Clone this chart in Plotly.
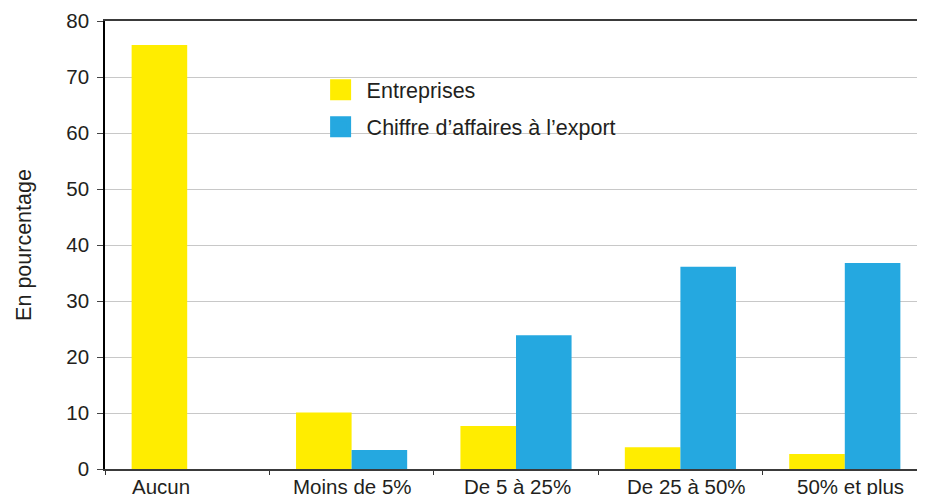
import plotly.graph_objects as go

categories = ["Aucun", "Moins de 5%", "De 5 à 25%", "De 25 à 50%", "50% et plus"]
entreprises = [75.7, 10.1, 7.7, 3.9, 2.7]
chiffre_export = [0, 3.4, 23.9, 36.1, 36.8]
series_names = ["Entreprises", "Chiffre d’affaires à l’export"]
colors = ["#FFED00", "#25A8E0"]
# horizontal nudge (px) of each category label, as placed in the original
label_nudge = [-26, 1, 1, 6, 6]

fig = go.Figure()
for name, vals, col in zip(series_names, [entreprises, chiffre_export], colors):
    fig.add_trace(go.Bar(x=categories, y=vals, name=name, marker=dict(color=col, line=dict(width=0)),
                         showlegend=False))
# legend entries (larger square symbols)
for i, (name, col) in enumerate(zip(series_names, colors)):
    fig.add_trace(go.Scatter(x=[None], y=[None], mode="markers", name=name, legendgroup=f"g{i}",
                             marker=dict(symbol="square", size=16, color=col, line=dict(color=col, width=5))))

# category labels
for cat, dx in zip(categories, label_nudge):
    fig.add_annotation(x=cat, y=0, xref="x", yref="y", text=cat, showarrow=False,
                       yanchor="top", xanchor="center", xshift=dx, yshift=-4,
                       font=dict(size=20.5))

font_family = "Liberation Sans, Arial, sans-serif"
fig.update_layout(
    width=925, height=495,
    margin=dict(l=97, r=6, t=13, b=34),
    paper_bgcolor="white", plot_bgcolor="white",
    barmode="group", bargap=0.324, bargroupgap=0,
    font=dict(family=font_family, size=21, color="#231f20"),
    legend=dict(x=0.255, y=0.892, xanchor="left", yanchor="top", bgcolor="rgba(0,0,0,0)",
                font=dict(size=21.5), tracegroupgap=6, itemclick=False, itemwidth=42),
    xaxis=dict(type="category", showgrid=False, showline=True, linecolor="#3a3a3a", linewidth=1.5,
               mirror=True, ticks="outside", tickson="boundaries", ticklen=4, tickcolor="#333",
               showticklabels=False, range=[-0.5, 4.5], automargin=False),
    yaxis=dict(range=[0, 80], dtick=10, showgrid=True, gridcolor="#c8c8c8", gridwidth=1.2,
               showline=True, linecolor="#000", linewidth=1.5, mirror=True,
               ticks="outside", ticklen=6, tickcolor="#444", tickfont=dict(size=20.5),
               ticklabelstandoff=4,
               zeroline=False, automargin=False,
               title=dict(text="En pourcentage", font=dict(size=21.5), standoff=29)),
)
fig.write_html("out.html")
